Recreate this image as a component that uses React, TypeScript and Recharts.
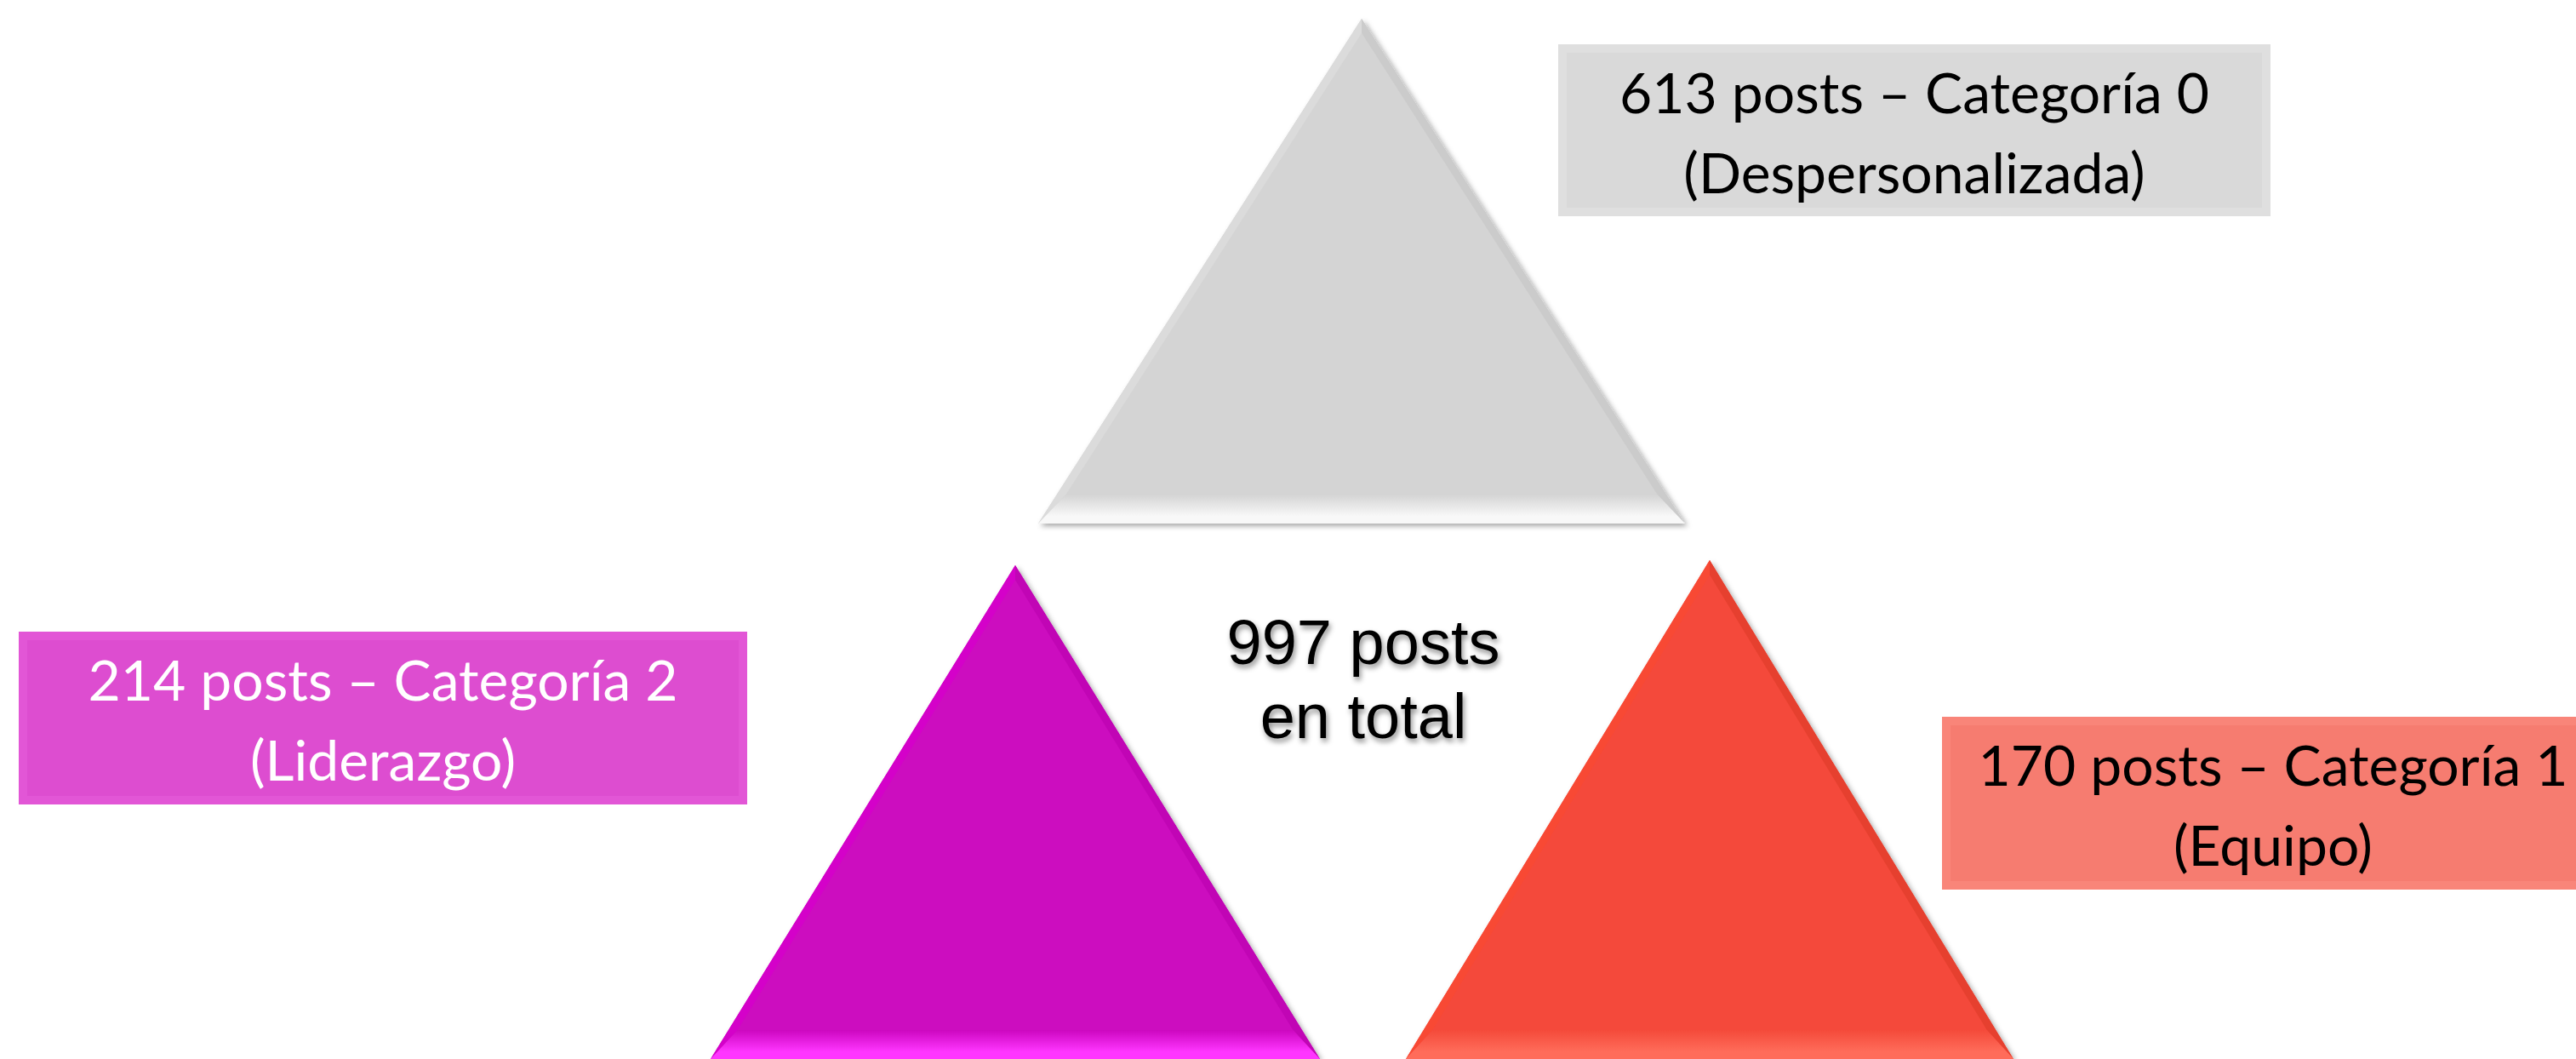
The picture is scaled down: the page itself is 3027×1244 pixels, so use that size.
import React from 'react';
import { ScatterChart, Scatter, XAxis, YAxis } from 'recharts';

// ---------- data ----------
const categoryNames = ['Categoría 0', 'Categoría 1', 'Categoría 2'];
const categoryLabels = ['Despersonalizada', 'Equipo', 'Liderazgo'];
const postCounts = [613, 170, 214];
const totalPosts = 997;
const totalLineTwo = 'en total';

// ---------- layout (chart units = pixels) ----------
const W = 3027;
const H = 1244;
const triangleApexX = [1600, 2009, 1193];
const triangleApexY = [22, 658, 664];
const triangleBaseY = [615, 1244, 1244];
const triangleHalfWidth = [380, 357, 358];
const boxX1 = [1831, 2282, 22];
const boxX2 = [2668, 3060, 878];
const boxY1 = [52, 842, 742];
const boxY2 = [254, 1045, 945];
const totalX = 1602;
const totalY = 780;

// ---------- styles ----------
const triPalettes = [
  { body: '#D4D4D4', left: '#DBDBDB', right: '#CBCBCB', baseBottom: '#F8F8F8' },
  { body: '#F44A3A', left: '#F84934', right: '#E6402F', baseBottom: '#FF6C5A' },
  { body: '#CC07BF', left: '#D401C9', right: '#C105B5', baseBottom: '#FF36FF' },
];
const boxPalettes = [
  { fill: '#D9D9D9', band: '#DFDFDF', text: '#000000' },
  { fill: '#F67C70', band: '#F98579', text: '#000000' },
  { fill: '#DD4DD0', band: '#E256D6', text: '#FFFFFF' },
];
const labelFont = 'Lato, "Open Sans", sans-serif';
const totalFont = '"Liberation Sans", Arial, sans-serif';

const triangleData = categoryNames.map((name, i) => ({
  name,
  x: triangleApexX[i],
  y: triangleApexY[i],
  baseY: triangleBaseY[i],
  hw: triangleHalfWidth[i],
  idx: i,
}));

const boxData = categoryNames.map((name, i) => ({
  name,
  x: (boxX1[i] + boxX2[i]) / 2,
  y: (boxY1[i] + boxY2[i]) / 2,
  w: boxX2[i] - boxX1[i],
  h: boxY2[i] - boxY1[i],
  line1: `${postCounts[i]} posts – ${name}`,
  line2: `(${categoryLabels[i]})`,
  idx: i,
}));

const totalData = [{ x: totalX, y: totalY, line1: `${totalPosts} posts`, line2: totalLineTwo }];

const pts = (arr: number[][]) => arr.map((p) => `${p[0]},${p[1]}`).join(' ');

function BevelTriangle(props: any) {
  const { cx, cy, payload } = props;
  const { baseY, hw, idx } = payload;
  const pal = triPalettes[idx];
  const ax = cx;
  const ay = cy;
  const h = baseY - ay;
  const L = Math.hypot(hw, h);
  const s = 9;
  const b = 34;
  const iay = ay + (s * L) / hw;
  const iby = baseY - b;
  const ihw = (hw * (iby - iay)) / h;
  const A = [ax, ay];
  const BL = [ax - hw, baseY];
  const BR = [ax + hw, baseY];
  const IA = [ax, iay];
  const IBL = [ax - ihw, iby];
  const IBR = [ax + ihw, iby];
  const fid = `triShadow${idx}`;
  const gid = `triBase${idx}`;
  return (
    <g>
      <defs>
        <filter id={fid} x="-10%" y="-10%" width="120%" height="120%">
          <feDropShadow dx="3" dy="3" stdDeviation="3" floodColor="#000" floodOpacity="0.35" />
        </filter>
        <linearGradient id={gid} gradientUnits="userSpaceOnUse" x1="0" y1={iby} x2="0" y2={baseY}>
          <stop offset="0" stopColor={pal.body} />
          <stop offset="0.75" stopColor={pal.baseBottom} />
          <stop offset="1" stopColor={pal.baseBottom} />
        </linearGradient>
      </defs>
      <polygon points={pts([A, BL, BR])} fill={pal.body} filter={`url(#${fid})`} />
      <polygon points={pts([A, BL, IBL, IA])} fill={pal.left} />
      <polygon points={pts([A, BR, IBR, IA])} fill={pal.right} />
      <polygon points={pts([BL, BR, IBR, IBL])} fill={`url(#${gid})`} />
    </g>
  );
}

function LabelBox(props: any) {
  const { cx, cy, payload } = props;
  const { w, h, line1, line2, idx } = payload;
  const pal = boxPalettes[idx];
  const x = cx - w / 2;
  const y = cy - h / 2;
  return (
    <g>
      <rect x={x} y={y} width={w} height={h} fill={pal.fill} />
      <rect x={x + 5} y={y + 5} width={w - 10} height={h - 10} fill="none" stroke={pal.band} strokeWidth={10} />
      <text x={cx} y={y + 81} textAnchor="middle" fontFamily={labelFont} fontSize={66} fill={pal.text}>
        {line1}
      </text>
      <text x={cx} y={y + 175} textAnchor="middle" fontFamily={labelFont} fontSize={66} fill={pal.text}>
        {line2}
      </text>
    </g>
  );
}

function TotalLabel(props: any) {
  const { cx, cy, payload } = props;
  return (
    <g>
      <defs>
        <filter id="totalShadow" x="-10%" y="-30%" width="120%" height="160%">
          <feDropShadow dx="2" dy="4" stdDeviation="3" floodColor="#000" floodOpacity="0.45" />
        </filter>
      </defs>
      <g filter="url(#totalShadow)">
        <text x={cx} y={cy} textAnchor="middle" fontFamily={totalFont} fontSize={74} fill="#000">
          {payload.line1}
        </text>
        <text x={cx} y={cy + 87} textAnchor="middle" fontFamily={totalFont} fontSize={74} fill="#000">
          {payload.line2}
        </text>
      </g>
    </g>
  );
}

export default function App() {
  return (
    <div style={{ width: W, height: H, background: '#fff', overflow: 'hidden' }}>
      <style>{'body{margin:0;}'}</style>
      <ScatterChart width={W} height={H} margin={{ top: 0, right: 0, bottom: 0, left: 0 }}>
        <XAxis type="number" dataKey="x" domain={[0, W]} hide allowDataOverflow />
        <YAxis type="number" dataKey="y" domain={[0, H]} reversed hide allowDataOverflow />
        <Scatter data={triangleData} shape={(p: any) => <BevelTriangle {...p} />} isAnimationActive={false} />
        <Scatter data={boxData} shape={(p: any) => <LabelBox {...p} />} isAnimationActive={false} />
        <Scatter data={totalData} shape={(p: any) => <TotalLabel {...p} />} isAnimationActive={false} />
      </ScatterChart>
    </div>
  );
}
